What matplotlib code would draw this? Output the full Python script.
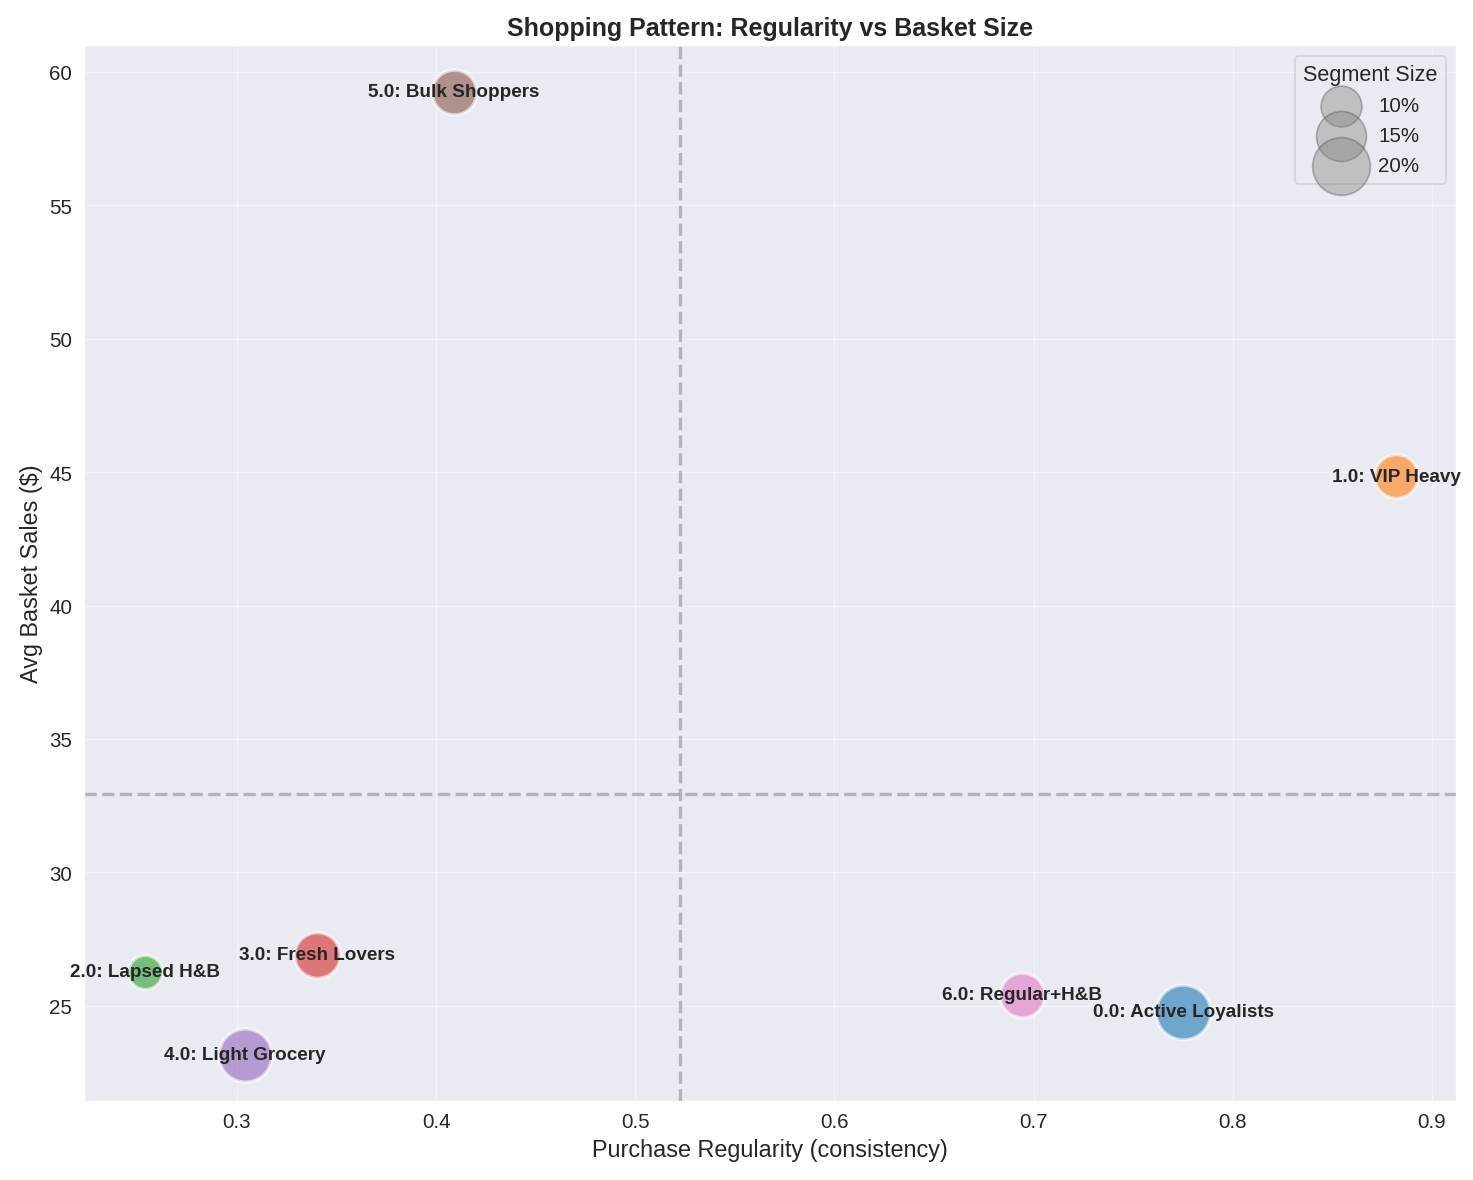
import matplotlib
matplotlib.use("Agg")
import matplotlib.pyplot as plt
import numpy as np
import seaborn as sns

# segment data
seg_ids = [0.0, 1.0, 2.0, 3.0, 4.0, 5.0, 6.0]
seg_names = ["Active Loyalists", "VIP Heavy", "Lapsed H&B", "Fresh Lovers",
             "Light Grocery", "Bulk Shoppers", "Regular+H&B"]
regularity = [0.775, 0.882, 0.254, 0.340, 0.304, 0.409, 0.694]
basket = [24.78, 44.85, 26.27, 26.91, 23.17, 59.25, 25.41]
seg_pct = [18.0, 11.5, 7.0, 12.5, 17.0, 12.0, 12.0]
legend_pct = [10, 15, 20]

sns.set_style("darkgrid")
plt.rcParams['font.family'] = ['Liberation Sans', 'DejaVu Sans']

size_k = 60

fig = plt.figure(figsize=(12.28, 9.84), dpi=120)
ax = fig.add_axes([0.057, 0.067, 0.931, 0.894])

colors = plt.cm.tab10.colors
for i in range(len(seg_ids)):
    ax.scatter(regularity[i], basket[i], s=seg_pct[i] * size_k, color=colors[i],
               alpha=0.6, edgecolors='white', linewidths=2, zorder=3)
    ax.text(regularity[i], basket[i], f"{seg_ids[i]}: {seg_names[i]}",
            ha='center', va='center', fontsize=11.3, fontweight='bold',
            color='#262626', zorder=4)

ax.axvline(np.mean(regularity), color='gray', linestyle='--', linewidth=2, alpha=0.5)
ax.axhline(np.mean(basket), color='gray', linestyle='--', linewidth=2, alpha=0.5)

for p in legend_pct:
    ax.scatter([], [], s=p * size_k, color='gray', alpha=0.4, edgecolors='#555555',
               linewidths=1, label=f"{p}%")
ax.legend(title="Segment Size", loc='upper right', fontsize=12.3, title_fontsize=13,
          labelspacing=0.55, frameon=True)

ax.set_xlim(0.2232, 0.912)
ax.set_ylim(21.44, 61.0)
ax.set_xticks([0.3, 0.4, 0.5, 0.6, 0.7, 0.8, 0.9])
ax.set_yticks([25, 30, 35, 40, 45, 50, 55, 60])
ax.tick_params(labelsize=12.3)
ax.grid(True, alpha=0.5)

ax.set_xlabel("Purchase Regularity (consistency)", fontsize=14)
ax.set_ylabel("Avg Basket Sales ($)", fontsize=14)
ax.set_title("Shopping Pattern: Regularity vs Basket Size", fontsize=15, fontweight='bold')

fig.savefig("out.png", dpi=120)
